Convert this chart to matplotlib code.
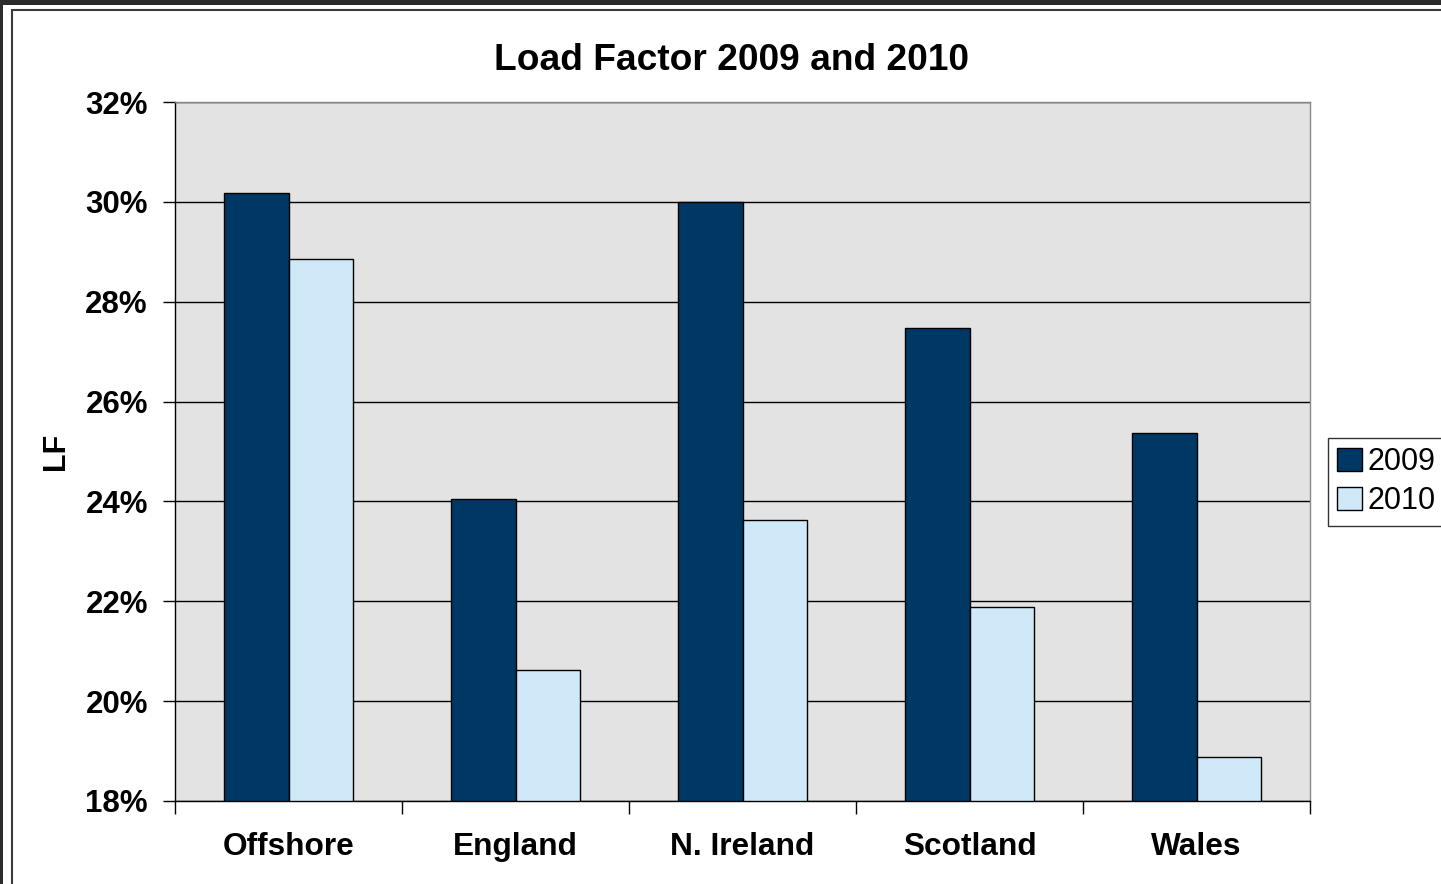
import matplotlib
matplotlib.use("Agg")
import matplotlib.pyplot as plt
from matplotlib.patches import Rectangle
from matplotlib.ticker import FuncFormatter, MultipleLocator, FixedLocator
import numpy as np

categories = ["Offshore", "England", "N. Ireland", "Scotland", "Wales"]
lf_2009 = [30.18, 24.05, 30.0, 27.47, 25.37]
lf_2010 = [28.86, 20.62, 23.63, 21.89, 18.88]
series_labels = ["2009", "2010"]

plt.rcParams['font.family'] = ['Liberation Sans', 'DejaVu Sans']

W, H = 1441, 884
fig = plt.figure(figsize=(W / 100, H / 100), dpi=100)
fig.patch.set_facecolor("white")

# outer dark frame strips and chart border
fig.add_artist(Rectangle((0, 1 - 5 / H), 1, 5 / H, transform=fig.transFigure,
                         facecolor="#2b2b2b", edgecolor="none", zorder=0))
fig.add_artist(Rectangle((0, 0), 3 / W, 1, transform=fig.transFigure,
                         facecolor="#2b2b2b", edgecolor="none", zorder=0))
fig.add_artist(Rectangle((12 / W, -0.1), 1.2, 1.1 - 10 / H, transform=fig.transFigure,
                         facecolor="none", edgecolor="#3a3a3a", linewidth=1.5, zorder=0))

ax = fig.add_axes([175 / W, 1 - 801 / H, (1310 - 175) / W, (801 - 102) / H])
ax.set_facecolor("#e3e3e3")

x = np.arange(len(categories))
bw = 1 / 3.5
b1 = ax.bar(x - bw / 2, np.array(lf_2009) - 18, bw, bottom=18, color="#003865",
            edgecolor="black", linewidth=1.0, label=series_labels[0], zorder=3)
b2 = ax.bar(x + bw / 2, np.array(lf_2010) - 18, bw, bottom=18, color="#d0e9f8",
            edgecolor="black", linewidth=1.0, label=series_labels[1], zorder=3)

ax.set_xlim(-0.5, len(categories) - 0.5)
ax.set_ylim(18, 32)
ax.yaxis.set_major_locator(MultipleLocator(2))
ax.yaxis.set_major_formatter(FuncFormatter(lambda v, p: f"{v:.0f}%"))
ax.grid(axis="y", color="black", linewidth=1.0, zorder=1)
ax.set_axisbelow(True)

ax.set_xticks(x)
ax.set_xticklabels(categories, fontsize=22.8, fontweight="bold")
ax.xaxis.set_minor_locator(FixedLocator(np.arange(-0.5, len(categories), 1)))
ax.tick_params(axis="x", which="major", length=0, pad=22)
ax.tick_params(axis="x", which="minor", length=9, width=1.0, direction="out", color="black")
ax.tick_params(axis="y", length=9, width=1.0, direction="out", labelsize=22.5, pad=10.5)
for lab in ax.get_yticklabels():
    lab.set_fontweight("bold")

for side in ["top", "right"]:
    ax.spines[side].set_color("#888888")
    ax.spines[side].set_linewidth(1.0)
for side in ["left", "bottom"]:
    ax.spines[side].set_color("black")
    ax.spines[side].set_linewidth(1.0)

ax.set_ylabel("LF", fontsize=22, fontweight="bold", va="center")
ax.yaxis.set_label_coords((56 - 175) / (1310 - 175), 0.5)
fig.text(731 / W, 1 - 60 / H, "Load Factor 2009 and 2010", ha="center", va="center",
         fontsize=26.7, fontweight="bold")

leg = fig.legend(handles=[b1, b2], labels=series_labels, loc="upper left",
                 bbox_to_anchor=(1328 / W, 1 - 438 / H), fontsize=22, frameon=True,
                 fancybox=False, edgecolor="black", handlelength=0.8, handleheight=0.8,
                 handletextpad=0.2, borderpad=0.3, labelspacing=0.3, borderaxespad=0)
leg.get_frame().set_linewidth(1.0)

fig.savefig("out.png", dpi=100)
